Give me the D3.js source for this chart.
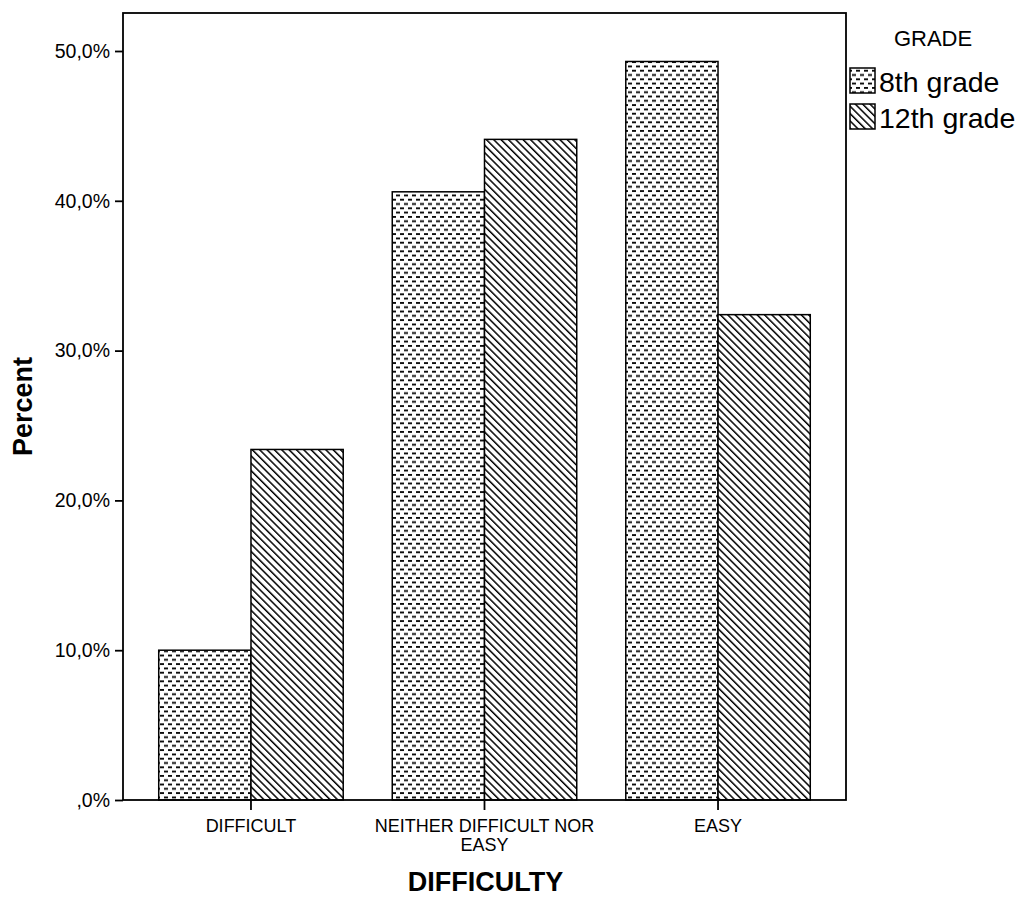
<!DOCTYPE html>
<html><head><meta charset="utf-8">
<script src="https://cdn.jsdelivr.net/npm/d3@7/dist/d3.min.js"></script>
<style>body{margin:0;background:#fff;} svg{display:block;font-family:"Liberation Sans",Arial,sans-serif;}</style>
</head><body>
<svg id="chart" width="1023" height="899"></svg>
<script>
const categories = ["DIFFICULT", "NEITHER DIFFICULT NOR EASY", "EASY"];
const categoryLines = [["DIFFICULT"], ["NEITHER DIFFICULT NOR", "EASY"], ["EASY"]];
const seriesNames = ["8th grade", "12th grade"];
const grade8 = [10.0, 40.6, 49.3];
const grade12 = [23.4, 44.1, 32.4];
const yTicks = [0, 10, 20, 30, 40, 50];
const yTickLabels = [",0%", "10,0%", "20,0%", "30,0%", "40,0%", "50,0%"];

const svg = d3.select("#chart");
const L = 123, T = 13, R = 846, B = 800;

const defs = svg.append("defs");
const dots = defs.append("pattern").attr("id","dots").attr("patternUnits","userSpaceOnUse")
  .attr("width",8).attr("height",8.6);
dots.append("rect").attr("width",8).attr("height",8.6).attr("fill","#fff");
dots.append("rect").attr("x",0).attr("y",1).attr("width",4).attr("height",1.8).attr("fill","#000");
dots.append("rect").attr("x",4).attr("y",5.3).attr("width",4).attr("height",1.8).attr("fill","#000");

const hatch = defs.append("pattern").attr("id","hatch").attr("patternUnits","userSpaceOnUse")
  .attr("width",5.2).attr("height",5.2).attr("patternTransform","rotate(-45)");
hatch.append("rect").attr("width",5.2).attr("height",5.2).attr("fill","#fff");
hatch.append("line").attr("x1",0).attr("y1",0).attr("x2",0).attr("y2",5.2)
  .attr("stroke","#000").attr("stroke-width",3.0);
const fills = ["url(#dots)", "url(#hatch)"];

const x = d3.scaleBand().domain(categories).range([L, R]).paddingInner(0.21).paddingOuter(0.153);
const xs = d3.scaleBand().domain(seriesNames).range([0, x.bandwidth()]);
const y = d3.scaleLinear().domain([0, 50]).range([B, 51]);

const data = categories.map((c,i)=>({c, vals:[grade8[i], grade12[i]]}));

const g = svg.append("g");
data.forEach(d=>{
  d.vals.forEach((v,j)=>{
    g.append("rect")
      .attr("x", x(d.c)+xs(seriesNames[j]))
      .attr("y", y(v))
      .attr("width", xs.bandwidth())
      .attr("height", y(0)-y(v))
      .attr("fill", fills[j])
      .attr("stroke","#000").attr("stroke-width",1.5);
  });
});

// frame
svg.append("rect").attr("x",L).attr("y",T).attr("width",R-L).attr("height",B-T)
  .attr("fill","none").attr("stroke","#000").attr("stroke-width",1.8);

// y axis
const yAxis = d3.axisLeft(y).tickValues(yTicks).tickSize(8).tickPadding(5)
  .tickFormat((d,i)=>yTickLabels[i]);
const ya = svg.append("g").attr("transform",`translate(${L},0)`).call(yAxis);
ya.select(".domain").remove();
ya.selectAll("line").attr("stroke","#000").attr("stroke-width",1.8);
ya.selectAll("text").attr("font-size",19.5).attr("fill","#000")
  .attr("font-family","'Liberation Sans',Arial,sans-serif");

// x axis
const xAxis = d3.axisBottom(x).tickSize(10).tickFormat("");
const xa = svg.append("g").attr("transform",`translate(0,${B})`).call(xAxis);
xa.select(".domain").remove();
xa.selectAll("line").attr("stroke","#000").attr("stroke-width",1.8);
categories.forEach((c,i)=>{
  const t = svg.append("text").attr("x", x(c)+x.bandwidth()/2).attr("y", 832)
    .attr("text-anchor","middle").attr("font-size",18).attr("fill","#000");
  categoryLines[i].forEach((ln,k)=>{
    t.append("tspan").attr("x", x(c)+x.bandwidth()/2).attr("dy", k===0?0:19).text(ln);
  });
});

// axis titles
svg.append("text").attr("x",(L+R)/2+1).attr("y",891).attr("text-anchor","middle")
  .attr("font-size",27).attr("font-weight","bold").text("DIFFICULTY");
svg.append("text").attr("transform",`translate(32,${(T+B)/2}) rotate(-90)`)
  .attr("text-anchor","middle").attr("font-size",27).attr("font-weight","bold").text("Percent");

// legend
svg.append("text").attr("x",933).attr("y",46).attr("text-anchor","middle")
  .attr("font-size",22).text("GRADE");
seriesNames.forEach((s,i)=>{
  const yy = 68 + i*36;
  svg.append("rect").attr("x",850).attr("y",yy).attr("width",25).attr("height",25)
    .attr("fill",fills[i]).attr("stroke","#000").attr("stroke-width",1.5);
  svg.append("text").attr("x",879).attr("y",yy+24).attr("font-size",28.5).text(s);
});
</script>
</body></html>
